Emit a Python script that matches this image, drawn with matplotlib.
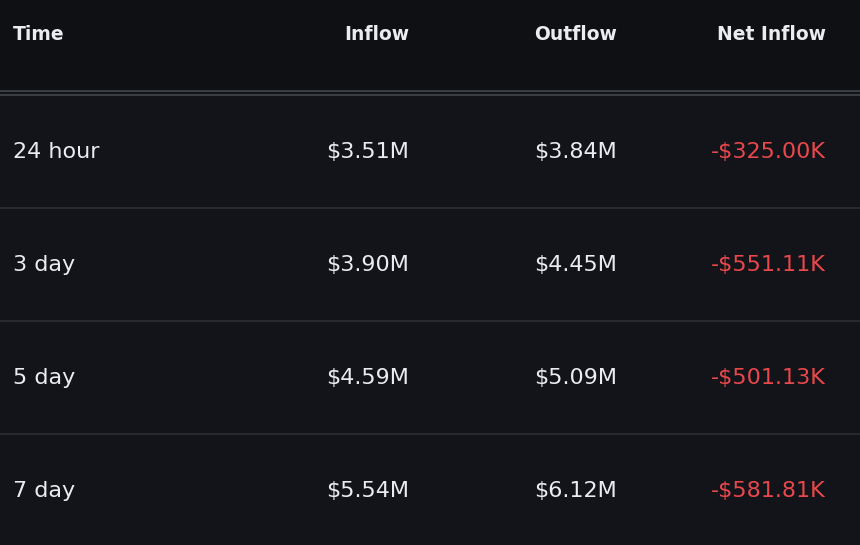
import matplotlib.pyplot as plt

columns = ['Time', 'Inflow', 'Outflow', 'Net Inflow']
times = ['24 hour', '3 day', '5 day', '7 day']
inflow = ['$3.51M', '$3.90M', '$4.59M', '$5.54M']
outflow = ['$3.84M', '$4.45M', '$5.09M', '$6.12M']
net_inflow = ['-$325.00K', '-$551.11K', '-$501.13K', '-$581.81K']

fig = plt.figure(figsize=(8.6, 5.45), dpi=100)
fig.patch.set_facecolor('#121419')
ax = fig.add_axes([0, 0, 1, 1])
ax.set_xlim(0, 860)
ax.set_ylim(545, 0)
ax.axis('off')

# header band
ax.axhspan(0, 91, color='#0f1013', zorder=0)
ax.axhline(91, color='#3a3d42', lw=1.5)
ax.axhline(95, color='#3a3d42', lw=1.5)

col_x = [13, 409, 617, 826]
col_ha = ['left', 'right', 'right', 'right']
font = 'DejaVu Sans'

for x, ha, name in zip(col_x, col_ha, columns):
    ax.text(x, 35, name, ha=ha, va='center', color='#eaecef',
            fontsize=13.5, fontweight='semibold', family=font)

row_h = 113
for i in range(len(times)):
    y = 152 + i * row_h
    vals = [times[i], inflow[i], outflow[i], net_inflow[i]]
    colors = ['#eaecef', '#eaecef', '#eaecef', '#e8484c']
    for x, ha, v, c in zip(col_x, col_ha, vals, colors):
        ax.text(x, y, v, ha=ha, va='center', color=c, fontsize=16, family=font)
    if i < len(times) - 1:
        ax.axhline(y + 56, color='#2b2e33', lw=1.2)

fig.savefig('out.png', dpi=100, facecolor=fig.get_facecolor())
